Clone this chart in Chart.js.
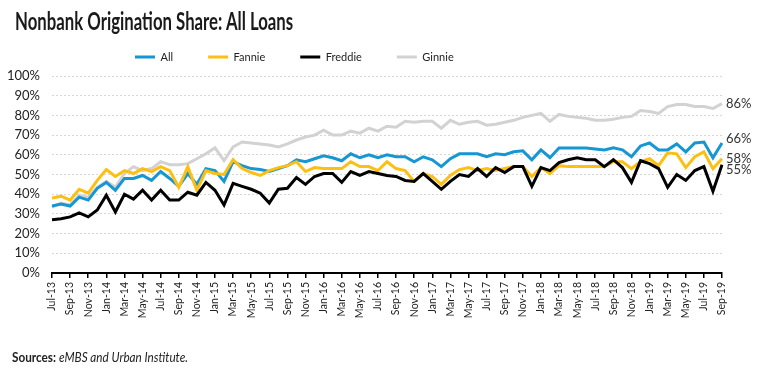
<!DOCTYPE html>
<html>
<head>
<meta charset="utf-8">
<script src="https://cdn.jsdelivr.net/npm/chart.js@4.4.0/dist/chart.umd.min.js"></script>
<style>
  body { margin: 0; background: #fff; font-family: Lato, sans-serif; }
  #wrap { position: relative; width: 763px; height: 375px; }
  #title { position: absolute; left: 15px; top: 7px; font-size: 24px; font-weight: 700; color: #1a1a1a;
           white-space: nowrap; transform-origin: 0 0; line-height: 1.2; }
  #src { position: absolute; left: 12px; top: 350px; font-size: 13px; color: #222;
         white-space: nowrap; transform-origin: 0 0; line-height: 1.2; }
</style>
</head>
<body>
<div id="wrap">
  <canvas id="myChart"></canvas>
  <div id="title">Nonbank Origination Share: All Loans</div>
  <div id="src"><b>Sources:</b> <i>eMBS and Urban Institute.</i></div>
</div>
<script>
// months, Jul-13 .. Sep-19
const months = [
  'Jul-13','Aug-13','Sep-13','Oct-13','Nov-13','Dec-13',
  'Jan-14','Feb-14','Mar-14','Apr-14','May-14','Jun-14','Jul-14','Aug-14','Sep-14','Oct-14','Nov-14','Dec-14',
  'Jan-15','Feb-15','Mar-15','Apr-15','May-15','Jun-15','Jul-15','Aug-15','Sep-15','Oct-15','Nov-15','Dec-15',
  'Jan-16','Feb-16','Mar-16','Apr-16','May-16','Jun-16','Jul-16','Aug-16','Sep-16','Oct-16','Nov-16','Dec-16',
  'Jan-17','Feb-17','Mar-17','Apr-17','May-17','Jun-17','Jul-17','Aug-17','Sep-17','Oct-17','Nov-17','Dec-17',
  'Jan-18','Feb-18','Mar-18','Apr-18','May-18','Jun-18','Jul-18','Aug-18','Sep-18','Oct-18','Nov-18','Dec-18',
  'Jan-19','Feb-19','Mar-19','Apr-19','May-19','Jun-19','Jul-19','Aug-19','Sep-19'
];

// nonbank share, %
const allShare = [
  34, 35, 34, 38.5, 37, 43, 46, 42, 48, 48,
  49.5, 47, 51.5, 48, 44, 50.5, 45, 53, 52, 46.5,
  56.5, 54.5, 53, 52.5, 51.5, 53, 54.5, 57.5, 56.5, 58,
  59.5, 58.5, 57, 60.5, 58.5, 60, 58.5, 60, 59, 59,
  56.5, 59, 57.5, 54, 58, 60.5, 60.5, 60.5, 59, 60.5,
  60, 61.5, 62, 57.5, 62.5, 58.5, 63.5, 63.5, 63.5, 63.5,
  63, 62.5, 63.5, 62.5, 59, 64.5, 66, 62.5, 62.5, 65.5,
  61.5, 66, 66.5, 58.5, 66
];
const fannieShare = [
  38, 39, 37, 42.5, 40.5, 47, 52.5, 49, 52, 50.5,
  53, 51.5, 54, 52, 43.5, 54, 42, 52, 50.5, 50,
  57.5, 53, 51, 49.5, 52, 53.5, 54.5, 56.5, 51.5, 53.5,
  53, 53, 53, 56.5, 54, 54, 52, 56.5, 53, 52,
  46.5, 50.5, 49, 45, 49.5, 52.5, 53.5, 52, 53, 52,
  53, 54, 54, 49, 53.5, 50.5, 54.5, 54, 54, 54,
  54, 54, 56.5, 56.5, 53, 56.5, 58, 54.5, 61, 60.5,
  53.5, 59, 61.5, 53, 58
];
const freddieShare = [
  27, 27.5, 28.5, 30.5, 28.5, 32, 39.5, 31, 40, 37.5,
  42, 37, 42, 37, 37, 41, 39.5, 46, 42, 34.5,
  45.5, 44, 42.5, 40.5, 35.5, 42.5, 43, 48.5, 45, 49,
  50.5, 50.5, 46, 51.5, 49.5, 51.5, 50.5, 49.5, 49, 47,
  46.5, 50.5, 46.5, 42.5, 46.5, 50, 49, 53, 49, 53.5,
  51, 54, 54, 44, 53.5, 52, 56, 57.5, 58.5, 57.5,
  57.5, 54, 57.5, 53.5, 46, 57, 55.5, 53, 43.5, 50,
  47, 52, 54, 41.5, 55
];
const ginnieShare = [
  33.5, 35.5, 34.5, 39.5, 38.5, 43.5, 46.5, 43.5, 50.5, 54,
  52, 53, 56.5, 55, 55, 55.5, 58, 60.5, 63.5, 57,
  64, 66.5, 66, 65.5, 65, 64, 65.5, 67.5, 69, 70,
  72.5, 70, 70, 72, 71, 73.5, 72, 74.5, 74, 77,
  76.5, 77, 77, 73.5, 77.5, 75.5, 76.5, 77, 75, 75.5,
  76.5, 77.5, 79, 80, 81, 77, 80.5, 79.5, 79, 78.5,
  77.5, 77.5, 78, 79, 79.5, 82.5, 82, 81, 84.5, 85.5,
  85.5, 84.5, 84.5, 83.5, 86
];

const seriesNames = ['All', 'Fannie', 'Freddie', 'Ginnie'];
const seriesColors = ['#1696d2', '#fdbf11', '#000000', '#d2d2d2'];

// small vertical nudges so the end labels don't collide
const endLabelNudge = [-4, 0, 5, 0];
const legendFontSize = 11;

// squeeze the html texts to the narrow look of the original
function fitWidth(id, w) {
  const el = document.getElementById(id);
  el.style.transform = 'scaleX(' + (w / el.offsetWidth) + ')';
}
fitWidth('title', 278);
fitWidth('src', 176);

const endLabels = {
  id: 'endLabels',
  afterDatasetsDraw(chart) {
    const ctx = chart.ctx;
    const xs = chart.scales.x, ys = chart.scales.y;
    ctx.save();
    ctx.font = '13px Lato';
    ctx.fillStyle = '#333';
    ctx.textBaseline = 'middle';
    chart.data.datasets.forEach(function (ds, i) {
      const last = ds.data.length - 1;
      const v = ds.data[last];
      ctx.fillText(Math.round(v) + '%', xs.getPixelForValue(last) + 4, ys.getPixelForValue(v) + endLabelNudge[i]);
    });
    ctx.restore();
  }
};

// move the legend row to where it sits in the original
const legendShift = {
  id: 'legendShift',
  afterLayout(chart) {
    const lg = chart.legend;
    if (!lg || !lg.lineWidths) return;
    const pad = lg.options.labels.padding;
    const firstX = (lg.left + pad + lg.right - lg.lineWidths[0]) / 2;
    const dx = 135 - firstX;
    lg.left += dx; lg.right += dx;
    const dy = 57 - (lg.top + pad + legendFontSize / 2);
    lg.top += dy; lg.bottom += dy;
  }
};

const seriesData = [allShare, fannieShare, freddieShare, ginnieShare];
const drawOrder = [3, 2, 1, 4];

const ctx = document.getElementById('myChart');
new Chart(ctx, {
  type: 'line',
  data: {
    labels: months,
    datasets: seriesNames.map(function (name, i) {
      return {
        label: name,
        data: seriesData[i],
        borderColor: seriesColors[i],
        backgroundColor: seriesColors[i],
        borderWidth: 3,
        pointRadius: 0,
        tension: 0,
        fill: false,
        order: drawOrder[i]
      };
    })
  },
  options: {
    responsive: true,
    maintainAspectRatio: false,
    animation: false,
    layout: { padding: { left: 5, right: 41, top: 30, bottom: 0 } },
    plugins: {
      tooltip: { enabled: false },
      legend: {
        position: 'top',
        maxHeight: 46,
        labels: {
          boxWidth: 20,
          boxHeight: 3,
          padding: 35,
          color: '#222',
          font: { family: 'Lato', size: legendFontSize },
          sort: function (a, b) { return a.datasetIndex - b.datasetIndex; },
          generateLabels: function (chart) {
            return Chart.defaults.plugins.legend.labels.generateLabels(chart).map(function (l) {
              l.fillStyle = l.strokeStyle;
              l.lineWidth = 0;
              return l;
            });
          }
        }
      }
    },
    scales: {
      x: {
        afterFit: function (scale) { scale.height = 102; },
        grid: {
          drawOnChartArea: false,
          drawTicks: true,
          tickLength: 5,
          lineWidth: 1.5,
          color: function (c) { return c.index % 2 === 0 ? '#000' : 'rgba(0,0,0,0)'; }
        },
        border: { display: true, color: '#000', width: 2 },
        ticks: {
          autoSkip: false,
          minRotation: 90,
          maxRotation: 90,
          padding: 4,
          color: '#222',
          font: { family: 'Lato', size: 10.5 },
          callback: function (v, i) { return i % 2 === 0 ? this.getLabelForValue(v) : ''; }
        }
      },
      y: {
        min: 0,
        max: 100,
        afterFit: function (scale) { scale.width = 47; },
        grid: { color: '#d6d6d6', lineWidth: 1, drawTicks: false },
        border: { display: false, dash: [2, 2] },
        ticks: {
          stepSize: 10,
          padding: 12,
          color: '#222',
          font: { family: 'Lato', size: 13 },
          callback: function (v) { return v + '%'; }
        }
      }
    }
  },
  plugins: [endLabels, legendShift]
});
</script>
</body>
</html>
